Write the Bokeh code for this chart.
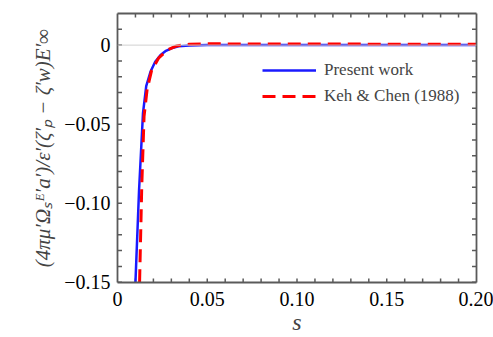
import numpy as np
from bokeh.plotting import figure
from bokeh.models import LinearAxis, Range1d, Span, Legend, LegendItem, FixedTicker
from bokeh.embed import file_html
from bokeh.resources import INLINE

# Data
present_s = [0.0100, 0.0120, 0.0142, 0.0160, 0.0185, 0.0210, 0.0240, 0.0270, 0.0300, 0.0340, 0.0400, 0.0500, 0.1000, 0.1500, 0.2000]
present_y = [-0.150, -0.092, -0.043, -0.026, -0.0165, -0.0105, -0.0062, -0.0036, -0.0020, -0.0008, -0.0002, 0.0, 0.0, 0.0, 0.0]
keh_s = [0.0123, 0.0135, 0.0148, 0.0165, 0.0190, 0.0230, 0.0280, 0.0330, 0.0400, 0.0500, 0.1000, 0.1500, 0.2000]
keh_y = [-0.150, -0.090, -0.045, -0.028, -0.0160, -0.0080, -0.0030, -0.0005, 0.0006, 0.0008, 0.0007, 0.0006, 0.0005]

x_ticks = [0, 0.05, 0.10, 0.15, 0.20]
x_labels = ["0", "0.05", "0.10", "0.15", "0.20"]
y_ticks = [-0.15, -0.10, -0.05, 0]
y_labels = ["\u22120.15", "\u22120.10", "\u22120.05", "0"]

x_minor = [round(v, 3) for v in np.arange(0, 0.2001, 0.01)]
y_minor = [round(v, 3) for v in np.arange(-0.15, 0.0201, 0.01)]

X0, X1 = 0.0, 0.2
Y0, Y1 = -0.1502, 0.02
TX = 0.0026   # inward tick length along y (data units)
TY = 0.0025   # inward tick length along x (data units)

FONT = "Liberation Serif"
AX = "#5a5a5a"

p = figure(width=493, height=337, output_backend="svg", toolbar_location=None,
           x_range=Range1d(X0, X1), y_range=Range1d(Y0, Y1),
           x_axis_type=None, y_axis_type=None,
           min_border_left=117, min_border_right=17, min_border_top=13, min_border_bottom=55)
p.xgrid.visible = False
p.ygrid.visible = False
p.outline_line_color = None
p.background_fill_color = "white"
p.border_fill_color = "white"

p.add_layout(Span(location=0, dimension="width", line_color="#d0d0d0", line_width=1))

# inward tick marks on all four sides
xm = np.array([v for v in x_minor if X0 < v < X1])
ym = np.array([v for v in y_minor if Y0 < v < Y1])
seg_kw = dict(line_color=AX, line_width=1.5)
p.segment(x0=xm, y0=np.full(len(xm), Y0), x1=xm, y1=np.full(len(xm), Y0 + TX), **seg_kw)
p.segment(x0=xm, y0=np.full(len(xm), Y1), x1=xm, y1=np.full(len(xm), Y1 - TX), **seg_kw)
p.segment(x0=np.full(len(ym), X0), y0=ym, x1=np.full(len(ym), X0 + TY), y1=ym, **seg_kw)
p.segment(x0=np.full(len(ym), X1), y0=ym, x1=np.full(len(ym), X1 - TY), y1=ym, **seg_kw)

r1 = p.line(present_s, present_y, line_color="#1a1aff", line_width=2.5)
r2 = p.line(keh_s, keh_y, line_color="#ff0000", line_width=3, line_dash="13 7")

def style(ax, labels=True):
    ax.axis_line_color = AX
    ax.axis_line_width = 1.8
    ax.major_tick_line_color = None
    ax.minor_tick_line_color = None
    ax.major_tick_in = 0
    ax.major_tick_out = 0
    ax.minor_tick_in = 0
    ax.minor_tick_out = 0
    ax.major_label_text_font = FONT
    ax.major_label_text_font_size = "20px"
    ax.major_label_text_color = "black" if labels else None
    if not labels:
        ax.major_label_standoff = 0

xb = LinearAxis(ticker=FixedTicker(ticks=x_ticks),
                major_label_overrides={t: l for t, l in zip(x_ticks, x_labels)})
yl = LinearAxis(ticker=FixedTicker(ticks=y_ticks),
                major_label_overrides={t: l for t, l in zip(y_ticks, y_labels)})
xt = LinearAxis(ticker=FixedTicker(ticks=x_ticks))
yr = LinearAxis(ticker=FixedTicker(ticks=y_ticks))
style(xb)
style(yl)
style(xt, False)
style(yr, False)
xb.major_label_standoff = 9
yl.major_label_standoff = 7

xb.axis_label = "s"
xb.axis_label_text_font = FONT
xb.axis_label_text_font_style = "italic"
xb.axis_label_text_font_size = "24px"
xb.axis_label_standoff = 0

yl.axis_label = "(4\u03c0\u03bc\u2032\u03a9\u209b\u1d31\u2032a\u2032)/\u03b5\u2032(\u03b6\u2032\u209a \u2212 \u03b6\u2032w)E\u2032\u221e"
yl.axis_label_text_font = FONT
yl.axis_label_text_font_style = "italic"
yl.axis_label_text_font_size = "21px"
yl.axis_label_standoff = 6

p.add_layout(xb, "below")
p.add_layout(yl, "left")
p.add_layout(xt, "above")
p.add_layout(yr, "right")

legend = Legend(items=[LegendItem(label="Present work", renderers=[r1]),
                       LegendItem(label="Keh & Chen (1988)", renderers=[r2])],
                location=(145, 176), orientation="vertical",
                glyph_width=54, glyph_height=20, label_height=20, spacing=6,
                label_standoff=8, padding=0, margin=0,
                label_text_font=FONT, label_text_font_size="17px",
                border_line_color=None, background_fill_alpha=0)
p.add_layout(legend, "center")

open("out.html", "w").write(file_html(p, INLINE))
